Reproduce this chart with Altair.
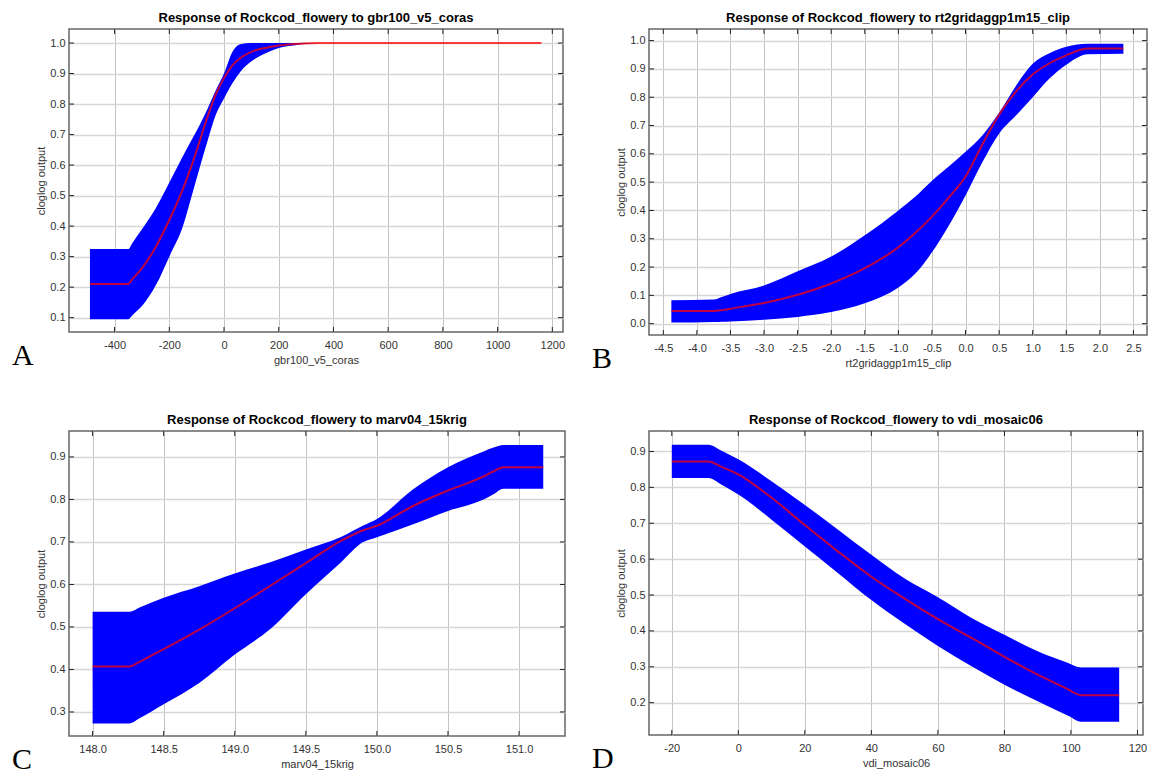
import altair as alt
import pandas as pd

# ---------------- Panel A : gbr100_v5_coras ----------------
A_x = [-490, -350, -335, -300, -250, -200, -150, -120, -90, -60, -30, 0, 30, 60, 100, 150, 200, 260, 350, 500, 800, 1160]
A_mean = [0.21, 0.21, 0.226, 0.262, 0.331, 0.42, 0.522, 0.595, 0.676, 0.759, 0.832, 0.885, 0.926, 0.951, 0.971, 0.984, 0.992, 0.997, 1.0, 1.0, 1.0, 1.0]
A_upper = [0.325, 0.325, 0.345, 0.39, 0.458, 0.543, 0.63, 0.68, 0.73, 0.785, 0.845, 0.90, 0.97, 0.996, 1.0, 1.0, 1.0, 1.0, 1.0, 1.0, 1.0, 1.0]
A_lower = [0.095, 0.095, 0.108, 0.138, 0.205, 0.30, 0.40, 0.493, 0.588, 0.68, 0.765, 0.818, 0.867, 0.906, 0.94, 0.966, 0.984, 0.993, 1.0, 1.0, 1.0, 1.0]
A_xticks = [-400, -200, 0, 200, 400, 600, 800, 1000, 1200]
A_yticks = [0.1, 0.2, 0.3, 0.4, 0.5, 0.6, 0.7, 0.8, 0.9, 1.0]

# ---------------- Panel B : rt2gridaggp1m15_clip ----------------
B_x = [-4.38, -3.75, -3.62, -3.5, -3.0, -2.5, -2.0, -1.5, -1.0, -0.75, -0.5, -0.25, 0.0, 0.25, 0.5, 0.75, 1.0, 1.25, 1.5, 1.82, 2.35]
B_mean = [0.045, 0.045, 0.048, 0.053, 0.073, 0.102, 0.142, 0.196, 0.27, 0.32, 0.378, 0.445, 0.52, 0.633, 0.738, 0.82, 0.88, 0.92, 0.948, 0.972, 0.972]
B_upper = [0.083, 0.085, 0.095, 0.105, 0.135, 0.185, 0.237, 0.312, 0.40, 0.448, 0.505, 0.555, 0.607, 0.665, 0.745, 0.84, 0.918, 0.955, 0.978, 0.989, 0.989]
B_lower = [0.004, 0.006, 0.007, 0.008, 0.014, 0.024, 0.041, 0.072, 0.128, 0.176, 0.252, 0.346, 0.453, 0.57, 0.671, 0.735, 0.80, 0.866, 0.915, 0.952, 0.954]
B_xticks = [-4.5, -4.0, -3.5, -3.0, -2.5, -2.0, -1.5, -1.0, -0.5, 0.0, 0.5, 1.0, 1.5, 2.0, 2.5]
B_yticks = [0.0, 0.1, 0.2, 0.3, 0.4, 0.5, 0.6, 0.7, 0.8, 0.9, 1.0]

# ---------------- Panel C : marv04_15krig ----------------
C_x = [148.0, 148.26, 148.33, 148.5, 148.75, 149.0, 149.25, 149.5, 149.75, 149.9, 150.0, 150.25, 150.5, 150.75, 150.82, 150.89, 151.17]
C_mean = [0.407, 0.407, 0.418, 0.448, 0.494, 0.544, 0.597, 0.650, 0.703, 0.727, 0.738, 0.784, 0.821, 0.854, 0.866, 0.876, 0.876]
C_upper = [0.536, 0.536, 0.546, 0.569, 0.596, 0.626, 0.652, 0.682, 0.712, 0.738, 0.754, 0.823, 0.876, 0.913, 0.922, 0.928, 0.928]
C_lower = [0.273, 0.273, 0.285, 0.318, 0.368, 0.435, 0.495, 0.577, 0.653, 0.699, 0.711, 0.741, 0.773, 0.80, 0.812, 0.825, 0.825]
C_xticks = [148.0, 148.5, 149.0, 149.5, 150.0, 150.5, 151.0]
C_yticks = [0.3, 0.4, 0.5, 0.6, 0.7, 0.8, 0.9]

# ---------------- Panel D : vdi_mosaic06 ----------------
D_x = [-20, -9, -5, 0, 10, 20, 30, 40, 50, 60, 70, 80, 90, 99, 103, 114.5]
D_mean = [0.872, 0.872, 0.857, 0.836, 0.771, 0.695, 0.621, 0.551, 0.490, 0.433, 0.381, 0.328, 0.278, 0.238, 0.221, 0.221]
D_upper = [0.919, 0.919, 0.902, 0.878, 0.817, 0.751, 0.682, 0.612, 0.546, 0.494, 0.437, 0.389, 0.343, 0.311, 0.298, 0.298]
D_lower = [0.826, 0.826, 0.807, 0.780, 0.710, 0.635, 0.561, 0.486, 0.420, 0.358, 0.302, 0.250, 0.204, 0.164, 0.147, 0.147]
D_xticks = [-20, 0, 20, 40, 60, 80, 100, 120]
D_yticks = [0.2, 0.3, 0.4, 0.5, 0.6, 0.7, 0.8, 0.9]

SPECIES = "Rockcod_flowery"
YTITLE = "cloglog output"
FONT = "Liberation Sans"
MINUS_FIX = "replace(datum.label, '\u2212', '-')"


def panel(var, xs, mean, lo, hi, xticks, yticks, xdom, ydom, xfmt, yfmt, letter, w, h):
    df = pd.DataFrame({"x": xs, "mean": mean, "lo": lo, "hi": hi})
    xscale = alt.Scale(domain=xdom, nice=False, zero=False)
    yscale = alt.Scale(domain=ydom, nice=False, zero=False)
    common = dict(labelFont=FONT, labelFontSize=11, labelColor="#333333",
                  titleFont=FONT, titleFontSize=11, titleFontWeight="normal",
                  titleColor="#333333", ticks=False, domain=False, grid=True,
                  labelOverlap=False, labelFlush=False, labelExpr=MINUS_FIX,
                  tickCount=40)
    xaxis = alt.Axis(values=xticks, format=xfmt, gridColor="#c4c4c4", gridWidth=1,
                     labelPadding=7, titlePadding=4, title=var, **common)
    yaxis = alt.Axis(values=yticks, format=yfmt, gridColor="#d6d6d6", gridWidth=1.6,
                     labelPadding=4, titlePadding=3, title=YTITLE, **common)

    band = alt.Chart(df).mark_area(color="#0000ff", opacity=1, interpolate="monotone").encode(
        x=alt.X("x:Q", scale=xscale, axis=xaxis),
        y=alt.Y("lo:Q", scale=yscale, axis=yaxis),
        y2="hi:Q",
    )
    line = alt.Chart(df).mark_line(color="#ff0000", strokeWidth=2, opacity=0.75,
                                   interpolate="monotone").encode(
        x=alt.X("x:Q", axis=xaxis),
        y=alt.Y("mean:Q", axis=yaxis),
    )
    xt = pd.DataFrame({"x": xticks})
    yt = pd.DataFrame({"lo": yticks})
    tick_color = "#222222"
    bottom_t = alt.Chart(xt).mark_rule(color=tick_color).encode(
        x=alt.X("x:Q", axis=xaxis), y=alt.value(h - 5), y2=alt.value(h))
    top_t = alt.Chart(xt).mark_rule(color=tick_color).encode(
        x=alt.X("x:Q", axis=xaxis), y=alt.value(0), y2=alt.value(5))
    left_t = alt.Chart(yt).mark_rule(color=tick_color).encode(
        y=alt.Y("lo:Q", axis=yaxis), x=alt.value(0), x2=alt.value(5))
    right_t = alt.Chart(yt).mark_rule(color=tick_color).encode(
        y=alt.Y("lo:Q", axis=yaxis), x=alt.value(w - 5), x2=alt.value(w))
    lab = alt.Chart(pd.DataFrame({"t": [letter]})).mark_text(
        font="Liberation Serif", fontSize=30, align="left", baseline="alphabetic", color="black"
    ).encode(text="t:N", x=alt.value(-57), y=alt.value(h + 33))

    return alt.layer(band, line, bottom_t, top_t, left_t, right_t, lab).properties(
        width=w, height=h,
        title=alt.Title(f"Response of {SPECIES} to {var}", font=FONT, fontSize=13,
                        fontWeight="bold", color="black", offset=4, anchor="middle"),
    )


pA = panel("gbr100_v5_coras", A_x, A_mean, A_lower, A_upper, A_xticks, A_yticks,
           [-566.6, 1239], [0.053, 1.046], "d", ".1f", "A", 494, 303)
pB = panel("rt2gridaggp1m15_clip", B_x, B_mean, B_lower, B_upper, B_xticks, B_yticks,
           [-4.713, 2.702], [-0.040, 1.041], ".1f", ".1f", "B", 498, 306)
pC = panel("marv04_15krig", C_x, C_mean, C_lower, C_upper, C_xticks, C_yticks,
           [147.834, 151.323], [0.2435, 0.961], ".1f", ".1f", "C", 496, 305)
pD = panel("vdi_mosaic06", D_x, D_mean, D_lower, D_upper, D_xticks, D_yticks,
           [-26.85, 121.66], [0.110, 0.957], "d", ".1f", "D", 494, 304)

chart = alt.concat(pA, pB, pC, pD, columns=2, spacing={"row": 37, "column": 24}).properties(
    padding={"left": 11, "top": 10, "right": 2, "bottom": 0},
    background="white",
).configure_view(stroke="#666666", strokeWidth=1.5)

chart.save("out.html", embed_options={"renderer": "svg", "actions": False})
